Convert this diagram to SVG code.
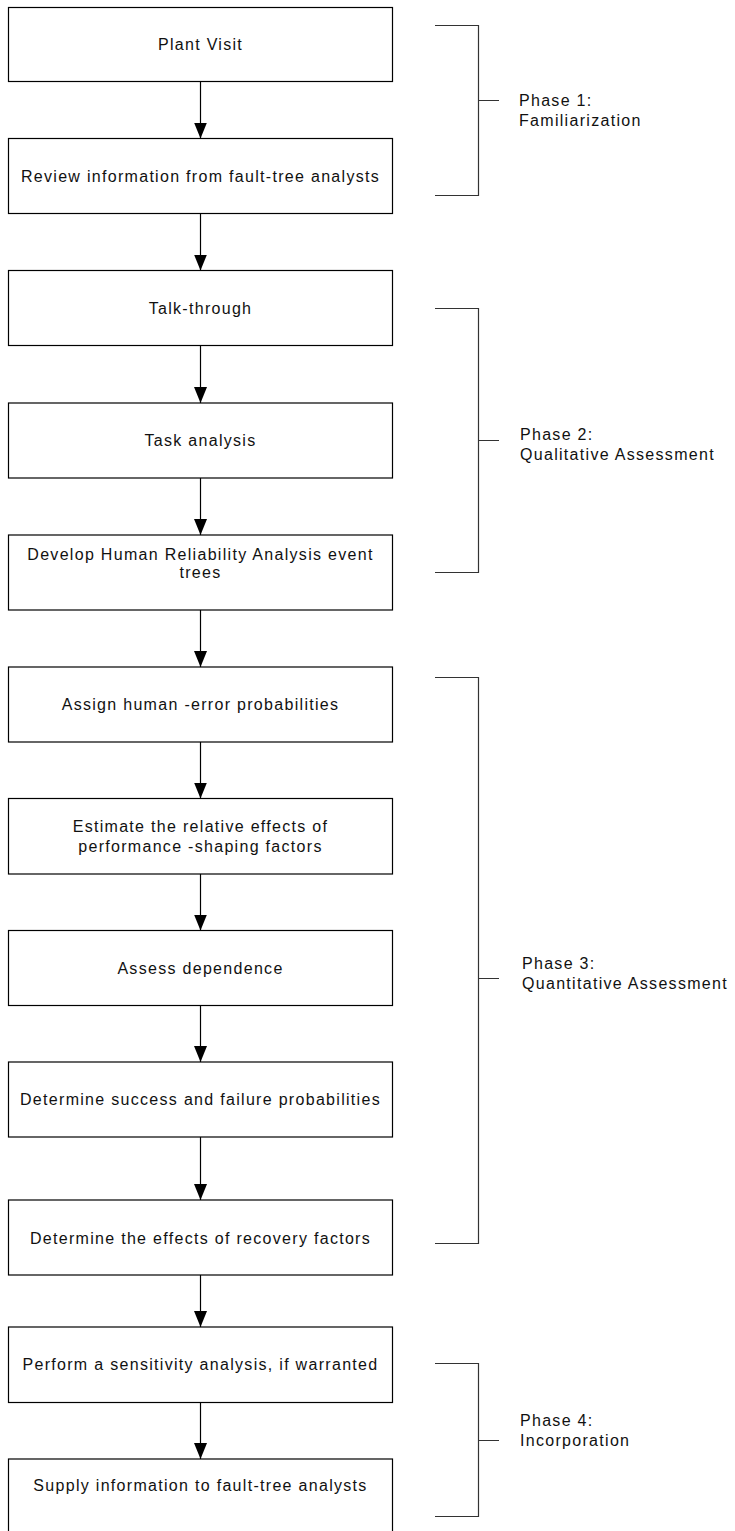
<svg xmlns="http://www.w3.org/2000/svg" width="735" height="1531" viewBox="0 0 735 1531">
  <style>
    .box { fill: #fff; stroke: #000; stroke-width: 1.2; }
    .lbl { font-family: "Liberation Sans", Arial, sans-serif; font-size: 16px; letter-spacing: 1.3px; fill: #111; }
    .mid { text-anchor: middle; }
    .flow { stroke: #000; stroke-width: 1.2; fill: none; }
    .brace { stroke: #333; stroke-width: 1.2; fill: none; }
  </style>
  <defs>
    <marker id="arrow" viewBox="0 0 16 13" refX="16" refY="6.5" markerWidth="16" markerHeight="13" markerUnits="userSpaceOnUse" orient="auto">
      <path d="M0,0 L16,6.5 L0,13 Z" fill="#000"/>
    </marker>
  </defs>
  <rect width="735" height="1531" fill="#fff"/>

  <!-- process steps -->
  <g id="plant-visit">
    <rect class="box" x="8.5" y="7.5" width="384" height="74"/>
    <text class="lbl mid" x="200.5" y="50">Plant Visit</text>
  </g>
  <g id="review-info">
    <rect class="box" x="8.5" y="138.5" width="384" height="75"/>
    <text class="lbl mid" x="200.5" y="182">Review information from fault-tree analysts</text>
  </g>
  <g id="talk-through">
    <rect class="box" x="8.5" y="270.5" width="384" height="75"/>
    <text class="lbl mid" x="200.5" y="313.5">Talk-through</text>
  </g>
  <g id="task-analysis">
    <rect class="box" x="8.5" y="403" width="384" height="75"/>
    <text class="lbl mid" x="200.5" y="446">Task analysis</text>
  </g>
  <g id="hra-event-trees">
    <rect class="box" x="8.5" y="535" width="384" height="75"/>
    <text class="lbl mid" x="200.5" y="560">Develop Human Reliability Analysis event</text>
    <text class="lbl mid" x="200.5" y="578">trees</text>
  </g>
  <g id="assign-hep">
    <rect class="box" x="8.5" y="667" width="384" height="75"/>
    <text class="lbl mid" x="200.5" y="710">Assign human -error probabilities</text>
  </g>
  <g id="estimate-psf">
    <rect class="box" x="8.5" y="798.5" width="384" height="75.5"/>
    <text class="lbl mid" x="200.5" y="832">Estimate the relative effects of</text>
    <text class="lbl mid" x="200.5" y="852">performance -shaping factors</text>
  </g>
  <g id="assess-dependence">
    <rect class="box" x="8.5" y="930.5" width="384" height="75"/>
    <text class="lbl mid" x="200.5" y="973.5">Assess dependence</text>
  </g>
  <g id="success-failure">
    <rect class="box" x="8.5" y="1062" width="384" height="75"/>
    <text class="lbl mid" x="200.5" y="1105">Determine success and failure probabilities</text>
  </g>
  <g id="recovery-factors">
    <rect class="box" x="8.5" y="1200" width="384" height="75"/>
    <text class="lbl mid" x="200.5" y="1243.5">Determine the effects of recovery factors</text>
  </g>
  <g id="sensitivity">
    <rect class="box" x="8.5" y="1327" width="384" height="75.5"/>
    <text class="lbl mid" x="200.5" y="1370">Perform a sensitivity analysis, if warranted</text>
  </g>
  <g id="supply-info">
    <rect class="box" x="8.5" y="1459" width="384" height="80"/>
    <text class="lbl mid" x="200.5" y="1491">Supply information to fault-tree analysts</text>
  </g>

  <!-- connectors between steps -->
  <g id="connectors">
    <line class="flow" x1="200.5" y1="81.5" x2="200.5" y2="138.5" marker-end="url(#arrow)"/>
    <line class="flow" x1="200.5" y1="213.5" x2="200.5" y2="270.5" marker-end="url(#arrow)"/>
    <line class="flow" x1="200.5" y1="345.5" x2="200.5" y2="403" marker-end="url(#arrow)"/>
    <line class="flow" x1="200.5" y1="478" x2="200.5" y2="535" marker-end="url(#arrow)"/>
    <line class="flow" x1="200.5" y1="610" x2="200.5" y2="667" marker-end="url(#arrow)"/>
    <line class="flow" x1="200.5" y1="742" x2="200.5" y2="798.5" marker-end="url(#arrow)"/>
    <line class="flow" x1="200.5" y1="874" x2="200.5" y2="930.5" marker-end="url(#arrow)"/>
    <line class="flow" x1="200.5" y1="1005.5" x2="200.5" y2="1062" marker-end="url(#arrow)"/>
    <line class="flow" x1="200.5" y1="1137" x2="200.5" y2="1200" marker-end="url(#arrow)"/>
    <line class="flow" x1="200.5" y1="1275" x2="200.5" y2="1327" marker-end="url(#arrow)"/>
    <line class="flow" x1="200.5" y1="1402.5" x2="200.5" y2="1459" marker-end="url(#arrow)"/>
  </g>

  <!-- phase brackets -->
  <g id="phase-1">
    <path class="brace" d="M435,25.5 H478.5 V195.5 H435 M478.5,100.5 H499"/>
    <text class="lbl" x="519" y="106">Phase 1:</text>
    <text class="lbl" x="519" y="126">Familiarization</text>
  </g>
  <g id="phase-2">
    <path class="brace" d="M435,308.5 H478.5 V572.5 H435 M478.5,440.5 H499"/>
    <text class="lbl" x="520" y="440">Phase 2:</text>
    <text class="lbl" x="520" y="460">Qualitative Assessment</text>
  </g>
  <g id="phase-3">
    <path class="brace" d="M435,677.5 H478.5 V1243.5 H435 M478.5,978.5 H499"/>
    <text class="lbl" x="522" y="969">Phase 3:</text>
    <text class="lbl" x="522" y="989">Quantitative Assessment</text>
  </g>
  <g id="phase-4">
    <path class="brace" d="M435,1363.5 H478.5 V1516.5 H435 M478.5,1440.5 H499"/>
    <text class="lbl" x="520" y="1426">Phase 4:</text>
    <text class="lbl" x="520" y="1446">Incorporation</text>
  </g>
</svg>
